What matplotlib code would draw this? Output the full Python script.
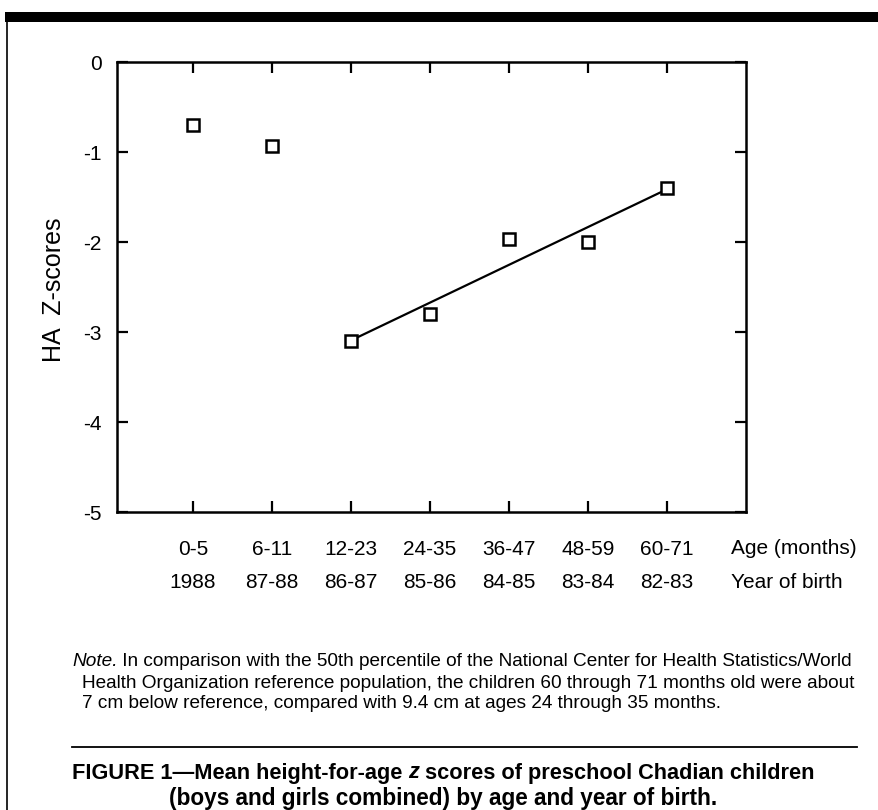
import numpy as np
import matplotlib
matplotlib.use("Agg")
import matplotlib.pyplot as plt
from matplotlib.patches import Rectangle
from matplotlib.lines import Line2D
from matplotlib.transforms import blended_transform_factory

plt.rcParams['font.family'] = ['Liberation Sans', 'DejaVu Sans']
plt.rcParams['axes.unicode_minus'] = False

# ---- data ----
age_groups = ["0-5", "6-11", "12-23", "24-35", "36-47", "48-59", "60-71"]
birth_years = ["1988", "87-88", "86-87", "85-86", "84-85", "83-84", "82-83"]
z_scores = [-0.70, -0.93, -3.10, -2.80, -1.97, -2.00, -1.40]
fit_start = 2  # regression over 12-23 .. 60-71
y_ticks = [0, -1, -2, -3, -4, -5]
y_tick_labels = ["0", "-1", "-2", "-3", "-4", "-5"]

W, H = 879, 810
fig = plt.figure(figsize=(W / 100, H / 100), dpi=100)
fig.patch.set_facecolor("white")
renderer = fig.canvas.get_renderer()

def fx(px):
    return px / W

def fy(py):
    return 1 - py / H

def seg_text(x0_px, y_px, parts, fs):
    """Draw consecutive text segments with different styles on one line."""
    xpx = x0_px
    for txt, kw in parts:
        t = fig.text(fx(xpx), fy(y_px), txt, ha="left", va="center", fontsize=fs, **kw)
        bb = t.get_window_extent(renderer=renderer)
        xpx += bb.width

ax = fig.add_axes([fx(117), fy(512), fx(746) - fx(117), fy(62) - fy(512)])

x = np.arange(1, len(age_groups) + 1)
ax.plot(x, z_scores, linestyle="none", marker="s", markersize=8,
        markerfacecolor="white", markeredgecolor="black", markeredgewidth=1.8, zorder=3)

xf = x[fit_start:]
yf = np.array(z_scores[fit_start:])
m, b = np.polyfit(xf, yf, 1)
ax.plot([xf[0], xf[-1]], [m * xf[0] + b, m * xf[-1] + b], color="black", lw=1.6, zorder=2)

ax.set_xlim(0.04, 8.0)
ax.set_ylim(-5, 0)
ax.set_yticks(y_ticks)
ax.set_yticklabels(y_tick_labels)
ax.set_xticks(x)
ax.set_xticklabels(age_groups)

for s in ax.spines.values():
    s.set_linewidth(1.8)
ax.tick_params(direction="in", length=8, width=1.6, top=True, right=True,
               labelsize=15, colors="black")
ax.tick_params(axis="y", pad=11)
ax.tick_params(axis="x", pad=20)

trans = blended_transform_factory(ax.transData, fig.transFigure)
for xi, lab in zip(x, birth_years):
    ax.text(xi, fy(582), lab, transform=trans, ha="center", va="center", fontsize=15)

fig.text(fx(731), fy(548), "Age (months)", ha="left", va="center", fontsize=15)
fig.text(fx(731), fy(582), "Year of birth", ha="left", va="center", fontsize=15)

fig.text(fx(54), fy(290), "HA  Z-scores", rotation=90, ha="center", va="center", fontsize=18)

# frame decorations
fig.patches.append(Rectangle((fx(5), fy(22)), 1 - fx(5), fy(12) - fy(22),
                             transform=fig.transFigure, facecolor="black", edgecolor="none"))
fig.lines.append(Line2D([fx(7), fx(7)], [0, fy(14)], transform=fig.transFigure,
                        color="black", lw=1.2))
fig.lines.append(Line2D([fx(72), fx(857)], [fy(747), fy(747)], transform=fig.transFigure,
                        color="black", lw=1.3))

# note
note_fs = 13.7
seg_text(72, 662, [("Note.", {"style": "italic"}),
                   (" In comparison with the 50th percentile of the National Center for Health Statistics/World", {})],
         note_fs)
fig.text(fx(82), fy(683),
         "Health Organization reference population, the children 60 through 71 months old were about",
         ha="left", va="center", fontsize=note_fs)
fig.text(fx(82), fy(703),
         "7 cm below reference, compared with 9.4 cm at ages 24 through 35 months.",
         ha="left", va="center", fontsize=note_fs)

# caption
cap_fs = 15.7
seg_text(72, 773, [("FIGURE 1\u2014Mean height-for-age ", {"fontweight": "bold"}),
                   ("z", {"fontweight": "bold", "style": "italic"}),
                   (" scores of preschool Chadian children", {"fontweight": "bold"})],
         cap_fs)
fig.text(fx(443), fy(798), "(boys and girls combined) by age and year of birth.",
         ha="center", va="center", fontsize=16.3, fontweight="bold")

fig.savefig("out.png", dpi=100, facecolor="white")
